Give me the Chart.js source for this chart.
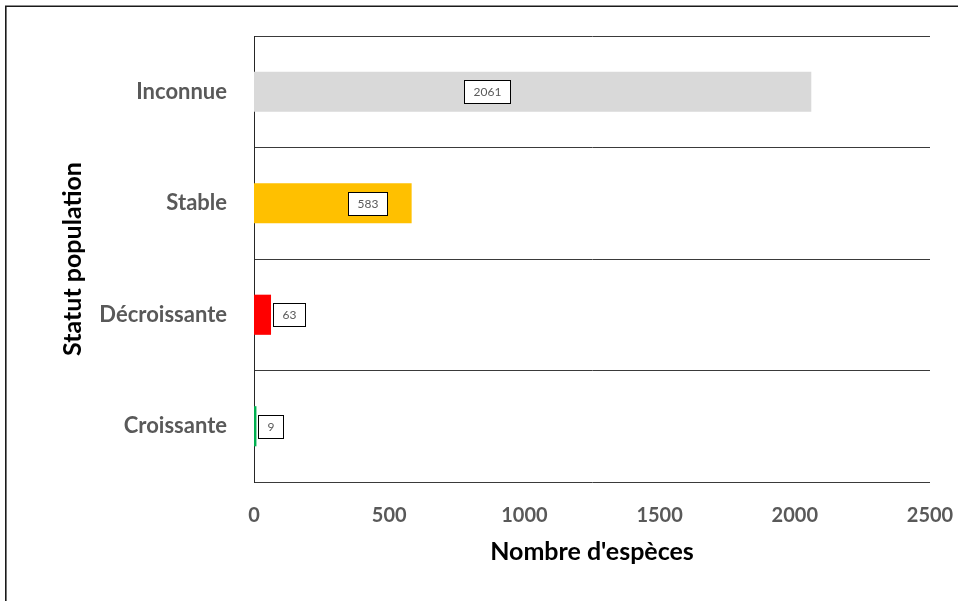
<!DOCTYPE html>
<html>
<head>
<meta charset="utf-8">
<script src="https://cdn.jsdelivr.net/npm/chart.js@4/dist/chart.umd.min.js"></script>
<style>
  html, body { margin: 0; padding: 0; background: #fff; }
  #wrap { position: relative; width: 958px; height: 601px; }
</style>
</head>
<body>
<div id="wrap"><canvas id="chart" width="958" height="601"></canvas></div>
<script>
// Population status of species
const categories = ['Inconnue', 'Stable', 'Décroissante', 'Croissante'];
const speciesCount = [2061, 583, 63, 9];
const barColors = ['#d9d9d9', '#ffc000', '#ff0000', '#00b050'];
const xTicks = [0, 500, 1000, 1500, 2000, 2500];

// where each value label sits along the axis (null: just past the bar end)
const labelAnchors = [862, 420, null, null];

const FONT = 'Lato, "Liberation Sans", sans-serif';

// frame around the whole figure
const framePlugin = {
  id: 'frame',
  afterDraw(chart) {
    const ctx = chart.ctx;
    ctx.save();
    ctx.strokeStyle = '#1a1a1a';
    ctx.lineWidth = 1.6;
    ctx.beginPath();
    ctx.moveTo(5.8, chart.height + 5);
    ctx.lineTo(5.8, 6.3);
    ctx.lineTo(chart.width + 5, 6.3);
    ctx.stroke();
    ctx.restore();
  }
};

// boxed value labels
const valueLabels = {
  id: 'valueLabels',
  afterDatasetsDraw(chart) {
    const ctx = chart.ctx;
    const meta = chart.getDatasetMeta(0);
    const xs = chart.scales.x;
    ctx.save();
    ctx.font = '12px ' + FONT;
    ctx.textBaseline = 'middle';
    ctx.textAlign = 'center';
    meta.data.forEach((bar, i) => {
      const txt = String(speciesCount[i]);
      const tw = ctx.measureText(txt).width;
      const w = Math.round(tw + 18);
      const h = 23;
      let cx;
      if (labelAnchors[i] !== null) {
        cx = xs.getPixelForValue(labelAnchors[i]);
      } else {
        cx = bar.x + 2 + w / 2;
      }
      const left = Math.round(cx - w / 2) + 0.5;
      const top = Math.round(bar.y - h / 2) + 0.5;
      ctx.fillStyle = '#ffffff';
      ctx.fillRect(left, top, w, h);
      ctx.strokeStyle = '#000000';
      ctx.lineWidth = 1;
      ctx.strokeRect(left, top, w, h);
      ctx.fillStyle = '#595959';
      ctx.fillText(txt, left + w / 2, top + h / 2 + 0.5);
    });
    ctx.restore();
  }
};

new Chart(document.getElementById('chart'), {
  type: 'bar',
  data: {
    labels: categories,
    datasets: [{
      data: speciesCount,
      backgroundColor: barColors,
      borderWidth: 0,
      categoryPercentage: 1,
      barPercentage: 0.36
    }]
  },
  options: {
    indexAxis: 'y',
    responsive: false,
    animation: false,
    devicePixelRatio: 1,
    layout: { padding: { left: 10, top: 36, right: 28, bottom: 10 } },
    plugins: {
      legend: { display: false },
      tooltip: { enabled: false }
    },
    scales: {
      x: {
        type: 'linear',
        min: 0,
        max: 2500,
        afterBuildTicks(scale) { scale.ticks = xTicks.map(v => ({ value: v })); },
        afterFit(scale) {
          scale.height = 109;
          scale.paddingLeft = 0;
          scale.paddingRight = 0;
        },
        grid: { display: false, drawTicks: false },
        border: { display: false },
        ticks: {
          padding: 22,
          color: '#595959',
          font: { family: FONT, size: 20, weight: 'bold' },
          callback: v => String(v)
        },
        title: {
          display: true,
          text: "Nombre d'espèces",
          color: '#000000',
          font: { family: FONT, size: 25, weight: 'bold' },
          padding: { top: 0, bottom: 24 }
        }
      },
      y: {
        type: 'category',
        offset: true,
        afterFit(scale) {
          scale.width = 244;
          scale.paddingTop = 0;
          scale.paddingBottom = 0;
        },
        grid: {
          offset: true,
          drawTicks: false,
          color: '#3a3a3a',
          lineWidth: 1
        },
        border: { display: true, color: '#262626', width: 1 },
        ticks: {
          padding: 27,
          color: '#595959',
          font: { family: FONT, size: 22, weight: 'bold' }
        },
        title: {
          display: true,
          text: 'Statut population',
          color: '#000000',
          font: { family: FONT, size: 25, weight: 'bold' },
          padding: { top: 48, bottom: 0 }
        }
      }
    }
  },
  plugins: [framePlugin, valueLabels]
});
</script>
</body>
</html>
